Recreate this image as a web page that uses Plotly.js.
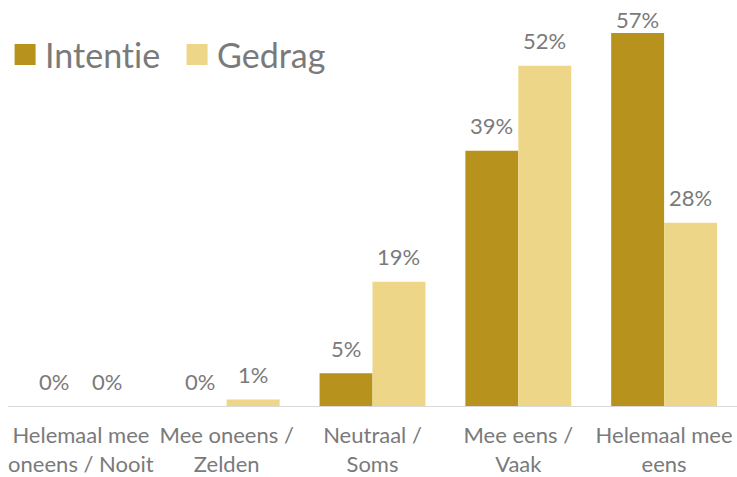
<!DOCTYPE html>
<html><head><meta charset="utf-8">
<script src="https://cdn.plot.ly/plotly-3.0.1.min.js"></script>
<style>html,body{margin:0;padding:0;background:#fff}#c{width:737px;height:477px}
svg text{font-variant-ligatures:none !important;font-feature-settings:"liga" 0,"clig" 0 !important}</style>
</head><body><div id="c"></div>
<script>
const categories = ["Helemaal mee<br>oneens / Nooit", "Mee oneens /<br>Zelden", "Neutraal /<br>Soms", "Mee eens /<br>Vaak", "Helemaal mee<br>eens"];
const intentie = [0, 0, 5, 39, 57];
const gedrag = [0, 1, 19, 52, 28];
const seriesNames = ["Intentie", "Gedrag"];
const colors = ["#B7921C", "#EED688"];
const font = "Lato, 'Open Sans', sans-serif";
const txtColor = "#7a7a7a";

const W = 737, H = 477, M = {l: 8, r: 0, t: 10, b: 71};
const yMax = 60.5, bargap = 0.274;
const plotW = W - M.l - M.r, plotH = H - M.t - M.b;
const ppu = plotH / yMax;
const barHalf = plotW / categories.length * (1 - bargap) / 4;

function barTrace(vals, i) {
  return {
    type: "bar", x: categories, y: vals, name: seriesNames[i],
    marker: {color: colors[i]}, showlegend: false, legendgroup: seriesNames[i],
    hoverinfo: "skip"
  };
}
function legendTrace(i) {
  return {
    type: "scatter", mode: "markers", x: [null], y: [null], name: seriesNames[i],
    legendgroup: seriesNames[i],
    marker: {symbol: "square", size: 16, color: colors[i], line: {color: colors[i], width: 5}}
  };
}
const annotations = [];
[intentie, gedrag].forEach((vals, i) => {
  vals.forEach((v, j) => {
    const room = (yMax - v) * ppu + M.t - 19;
    annotations.push({
      x: categories[j], y: v, xref: "x", yref: "y", text: v + "%", showarrow: false,
      xshift: (i === 0 ? -1 : 1) * barHalf, yshift: Math.min(25, room),
      yanchor: "middle", xanchor: "center",
      font: {family: font, size: 22, color: txtColor}
    });
  });
});
const data = [barTrace(intentie, 0), barTrace(gedrag, 1), legendTrace(0), legendTrace(1)];
const layout = {
  width: W, height: H, margin: M,
  paper_bgcolor: "#fff", plot_bgcolor: "#fff",
  barmode: "group", bargap: bargap, bargroupgap: 0,
  font: {family: font, color: txtColor},
  xaxis: {
    type: "category", showgrid: false, showline: true, linecolor: "#d9d9d9", linewidth: 1,
    ticks: "", tickangle: 0, tickfont: {family: font, size: 22, color: txtColor}, ticklabelstandoff: 10,
    range: [-0.5, 4.5], fixedrange: true
  },
  yaxis: {range: [0, yMax], visible: false, showgrid: false, zeroline: false, fixedrange: true},
  legend: {
    orientation: "h", x: -0.004, y: 1 - (55 - M.t) / plotH, xanchor: "left", yanchor: "middle",
    font: {family: font, size: 34, color: txtColor}, itemwidth: 30, entrywidth: 127, entrywidthmode: "pixels",
    bgcolor: "rgba(0,0,0,0)", traceorder: "normal"
  },
  annotations: annotations,
  showlegend: true
};
Plotly.newPlot("c", data, layout, {staticPlot: true, displayModeBar: false});
</script></body></html>
